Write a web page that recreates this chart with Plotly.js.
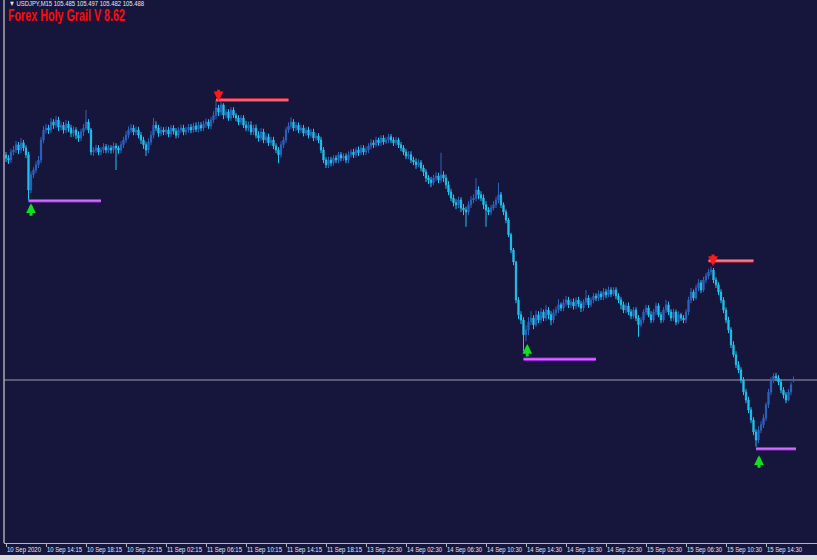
<!DOCTYPE html>
<html>
<head>
<meta charset="utf-8">
<script src="https://cdn.plot.ly/plotly-3.0.1.min.js"></script>
<style>
html,body{margin:0;padding:0;background:#16153b;}
#chart{width:817px;height:560px;}
</style>
</head>
<body>
<div id="chart"></div>
<script>
// ---- data (USDJPY M15, bar index 0..315) ----
const symbolName = 'USDJPY,M15';
const chartTitle = 'Forex Holy Grail V 8.62';

const tickLabels = ['10 Sep 2020','10 Sep 14:15','10 Sep 18:15','10 Sep 22:15','11 Sep 02:15','11 Sep 06:15','11 Sep 10:15','11 Sep 14:15','11 Sep 18:15','13 Sep 22:30','14 Sep 02:30','14 Sep 06:30','14 Sep 10:30','14 Sep 14:30','14 Sep 18:30','14 Sep 22:30','15 Sep 02:30','15 Sep 06:30','15 Sep 10:30','15 Sep 14:30'];

const closes = [
106.043,106.038,106.058,106.063,106.076,106.063,106.081,106.068,106.051,105.963,106.001,106.013,106.026,106.038,106.088,106.113,
106.118,106.113,106.133,106.125,106.138,106.120,106.125,106.113,106.128,106.118,106.105,106.113,106.100,106.093,106.108,106.118,
106.133,106.113,106.058,106.063,106.068,106.058,106.063,106.071,106.063,106.068,106.063,106.073,106.068,106.063,106.076,106.088,
106.100,106.113,106.118,106.108,106.113,106.100,106.088,106.076,106.063,106.083,106.100,106.125,106.118,106.105,106.113,106.108,
106.113,106.103,106.118,106.110,106.100,106.113,106.118,106.108,106.113,106.120,106.113,106.123,106.115,106.125,106.118,106.128,
106.133,106.123,106.138,106.150,106.168,106.158,106.176,106.150,106.158,106.143,106.163,106.150,106.143,106.133,106.143,106.125,
106.118,106.125,106.108,106.118,106.100,106.093,106.108,106.088,106.096,106.081,106.088,106.073,106.063,106.051,106.076,106.088,
106.113,106.123,106.133,106.118,106.125,106.113,106.118,106.105,106.113,106.100,106.108,106.093,106.098,106.088,106.063,106.038,
106.026,106.038,106.031,106.043,106.038,106.051,106.043,106.048,106.038,106.051,106.058,106.051,106.063,106.056,106.068,106.058,
106.063,106.073,106.081,106.076,106.088,106.081,106.093,106.083,106.088,106.096,106.088,106.081,106.088,106.076,106.068,106.058,
106.048,106.051,106.038,106.033,106.026,106.031,106.018,106.008,105.993,105.988,105.981,105.993,105.998,105.988,106.001,105.993,
105.976,105.958,105.943,105.931,105.926,105.938,105.918,105.913,105.908,105.926,105.938,105.943,105.963,105.951,105.943,105.926,
105.913,105.908,105.918,105.926,105.938,105.951,105.926,105.908,105.888,105.851,105.813,105.783,105.688,105.651,105.638,105.601,
105.613,105.633,105.643,105.626,105.651,105.638,105.658,105.643,105.663,105.651,105.638,105.656,105.663,105.676,105.668,105.681,
105.688,105.676,105.683,105.673,105.688,105.678,105.668,105.683,105.693,105.676,105.688,105.698,105.693,105.703,105.696,105.708,
105.701,105.713,105.703,105.713,105.698,105.688,105.676,105.663,105.673,105.658,105.648,105.663,105.643,105.626,105.638,105.658,
105.668,105.651,105.638,105.658,105.673,105.651,105.638,105.663,105.676,105.658,105.643,105.658,105.633,105.651,105.643,105.638,
105.658,105.688,105.708,105.693,105.718,105.731,105.713,105.738,105.748,105.758,105.763,105.738,105.726,105.708,105.688,105.663,
105.638,105.613,105.576,105.551,105.526,105.513,105.488,105.458,105.438,105.413,105.388,105.358,105.338,105.363,105.376,105.393,
105.426,105.458,105.488,105.498,105.493,105.483,105.463,105.451,105.438,105.458,105.476,105.488];

const opens = [
106.050,106.043,106.038,106.058,106.063,106.076,106.063,106.081,106.068,106.051,105.963,106.001,106.013,106.026,106.038,106.088,
106.113,106.118,106.113,106.133,106.125,106.138,106.120,106.125,106.113,106.128,106.118,106.105,106.113,106.100,106.093,106.108,
106.118,106.133,106.113,106.058,106.063,106.068,106.058,106.063,106.071,106.063,106.068,106.063,106.073,106.068,106.063,106.076,
106.088,106.100,106.113,106.118,106.108,106.113,106.100,106.088,106.076,106.063,106.083,106.100,106.125,106.118,106.105,106.113,
106.108,106.113,106.103,106.118,106.110,106.100,106.113,106.118,106.108,106.113,106.120,106.113,106.123,106.115,106.125,106.118,
106.128,106.133,106.123,106.138,106.150,106.168,106.158,106.176,106.150,106.158,106.143,106.163,106.150,106.143,106.133,106.143,
106.125,106.118,106.125,106.108,106.118,106.100,106.093,106.108,106.088,106.096,106.081,106.088,106.073,106.063,106.051,106.076,
106.088,106.113,106.123,106.133,106.118,106.125,106.113,106.118,106.105,106.113,106.100,106.108,106.093,106.098,106.088,106.063,
106.038,106.026,106.038,106.031,106.043,106.038,106.051,106.043,106.048,106.038,106.051,106.058,106.051,106.063,106.056,106.068,
106.058,106.063,106.073,106.081,106.076,106.088,106.081,106.093,106.083,106.088,106.096,106.088,106.081,106.088,106.076,106.068,
106.058,106.048,106.051,106.038,106.033,106.026,106.031,106.018,106.008,105.993,105.988,105.981,105.993,105.998,105.988,106.001,
105.993,105.976,105.958,105.943,105.931,105.926,105.938,105.918,105.913,105.908,105.926,105.938,105.943,105.963,105.951,105.943,
105.926,105.913,105.908,105.918,105.926,105.938,105.951,105.926,105.908,105.888,105.851,105.813,105.783,105.688,105.651,105.638,
105.601,105.613,105.633,105.643,105.626,105.651,105.638,105.658,105.643,105.663,105.651,105.638,105.656,105.663,105.676,105.668,
105.681,105.688,105.676,105.683,105.673,105.688,105.678,105.668,105.683,105.693,105.676,105.688,105.698,105.693,105.703,105.696,
105.708,105.701,105.713,105.703,105.713,105.698,105.688,105.676,105.663,105.673,105.658,105.648,105.663,105.643,105.626,105.638,
105.658,105.668,105.651,105.638,105.658,105.673,105.651,105.638,105.663,105.676,105.658,105.643,105.658,105.633,105.651,105.643,
105.638,105.658,105.688,105.708,105.693,105.718,105.731,105.713,105.738,105.748,105.758,105.763,105.738,105.726,105.708,105.688,
105.663,105.638,105.613,105.576,105.551,105.526,105.513,105.488,105.458,105.438,105.413,105.388,105.358,105.338,105.363,105.376,
105.393,105.426,105.458,105.488,105.498,105.493,105.483,105.463,105.451,105.438,105.458,105.485];

const highs = [
106.058,106.050,106.066,106.073,106.086,106.083,106.093,106.088,106.075,106.058,106.010,106.020,106.035,106.048,106.096,106.123,
106.128,106.126,106.143,106.140,106.148,106.146,106.134,106.133,106.138,106.136,106.126,106.122,106.120,106.110,106.116,106.128,
106.163,106.140,106.118,106.070,106.076,106.075,106.070,106.080,106.078,106.076,106.075,106.082,106.080,106.074,106.085,106.096,
106.110,106.122,106.128,106.126,106.122,106.121,106.108,106.096,106.084,106.092,106.110,106.143,106.135,106.126,106.122,106.120,
106.122,106.121,106.126,106.125,106.118,106.120,106.127,106.126,106.121,106.128,106.128,106.131,106.132,106.134,106.133,106.136,
106.142,106.140,106.146,106.160,106.188,106.176,106.183,106.180,106.166,106.165,106.170,106.170,106.156,106.150,106.150,106.150,
106.136,106.134,106.135,106.126,106.127,106.110,106.118,106.116,106.104,106.104,106.096,106.096,106.080,106.070,106.085,106.096,
106.120,106.132,106.145,106.140,106.133,106.132,106.126,106.126,106.120,106.121,106.116,106.116,106.106,106.105,106.096,106.070,
106.045,106.046,106.046,106.050,106.050,106.058,106.058,106.055,106.055,106.060,106.065,106.066,106.070,106.072,106.076,106.075,
106.072,106.080,106.090,106.088,106.096,106.094,106.100,106.100,106.095,106.104,106.103,106.095,106.096,106.094,106.083,106.075,
106.066,106.060,106.060,106.046,106.042,106.040,106.038,106.026,106.015,106.000,105.996,106.001,106.008,106.006,106.056,106.010,
106.002,105.985,105.966,105.952,105.940,105.946,105.945,105.928,105.921,105.935,105.948,105.952,105.993,105.972,105.960,105.952,
105.935,105.920,105.926,105.935,105.946,105.981,105.958,105.932,105.914,105.893,105.856,105.818,105.786,105.695,105.660,105.645,
105.625,105.645,105.660,105.650,105.662,105.660,105.668,105.664,105.676,105.670,105.660,105.665,105.672,105.690,105.682,105.690,
105.698,105.696,105.690,105.692,105.695,105.696,105.686,105.690,105.713,105.700,105.695,105.706,105.705,105.712,105.710,105.718,
105.716,105.722,105.720,105.720,105.720,105.705,105.695,105.684,105.680,105.682,105.665,105.670,105.670,105.650,105.645,105.665,
105.676,105.675,105.660,105.665,105.682,105.680,105.658,105.670,105.688,105.684,105.665,105.666,105.664,105.660,105.656,105.650,
105.665,105.696,105.718,105.714,105.726,105.740,105.738,105.746,105.756,105.766,105.771,105.768,105.745,105.732,105.715,105.695,
105.670,105.646,105.620,105.585,105.560,105.535,105.520,105.495,105.466,105.446,105.420,105.395,105.365,105.372,105.385,105.402,
105.432,105.466,105.495,105.505,105.506,105.500,105.490,105.470,105.458,105.465,105.483,105.497];

const lows = [
106.033,106.028,106.030,106.050,106.055,106.053,106.056,106.060,106.043,105.938,105.955,105.993,106.005,106.018,106.030,106.080,
106.104,106.103,106.105,106.116,106.117,106.110,106.112,106.104,106.105,106.108,106.095,106.096,106.090,106.083,106.085,106.098,
106.112,106.105,106.050,106.048,106.055,106.050,106.050,106.055,106.055,106.056,106.054,106.055,106.013,106.054,106.055,106.068,
106.080,106.092,106.105,106.100,106.100,106.092,106.078,106.066,106.048,106.055,106.075,106.092,106.110,106.096,106.098,106.100,
106.100,106.095,106.096,106.102,106.092,106.093,106.106,106.100,106.100,106.106,106.105,106.106,106.108,106.107,106.110,106.110,
106.118,106.116,106.115,106.130,106.140,106.148,106.150,106.140,106.142,106.136,106.136,106.143,106.135,106.125,106.126,106.118,
106.110,106.110,106.100,106.100,106.092,106.084,106.085,106.080,106.080,106.073,106.074,106.065,106.055,106.030,106.044,106.068,
106.080,106.105,106.115,106.110,106.110,106.105,106.106,106.097,106.098,106.092,106.094,106.085,106.086,106.080,106.055,106.030,
106.018,106.018,106.022,106.024,106.030,106.030,106.035,106.036,106.030,106.030,106.044,106.043,106.044,106.048,106.050,106.050,
106.050,106.055,106.065,106.068,106.070,106.074,106.073,106.076,106.078,106.080,106.080,106.073,106.074,106.068,106.060,106.050,
106.040,106.040,106.030,106.025,106.016,106.020,106.010,105.998,105.983,105.978,105.970,105.975,105.985,105.980,105.980,105.983,
105.966,105.950,105.935,105.922,105.915,105.918,105.908,105.900,105.871,105.900,105.918,105.930,105.935,105.940,105.935,105.915,
105.871,105.900,105.900,105.912,105.918,105.930,105.918,105.900,105.880,105.845,105.805,105.775,105.680,105.640,105.628,105.560,
105.585,105.600,105.625,105.615,105.620,105.630,105.630,105.635,105.636,105.640,105.625,105.630,105.648,105.655,105.660,105.660,
105.672,105.668,105.668,105.664,105.665,105.670,105.658,105.660,105.675,105.668,105.670,105.680,105.685,105.685,105.688,105.688,
105.692,105.695,105.695,105.698,105.690,105.680,105.665,105.655,105.655,105.650,105.640,105.642,105.635,105.596,105.620,105.630,
105.650,105.645,105.630,105.632,105.650,105.645,105.630,105.632,105.655,105.650,105.635,105.636,105.625,105.628,105.636,105.630,
105.630,105.650,105.680,105.686,105.688,105.710,105.705,105.708,105.730,105.740,105.750,105.730,105.718,105.700,105.680,105.655,
105.630,105.605,105.568,105.545,105.518,105.505,105.480,105.450,105.430,105.405,105.380,105.350,105.321,105.330,105.355,105.368,
105.385,105.418,105.450,105.480,105.485,105.475,105.455,105.442,105.430,105.435,105.450,105.482];

// indicator levels (bar start, bar end, price) and signal arrows
const levelStart = [9, 84, 207, 281, 300];
const levelEnd   = [38, 113, 236, 299, 316];
const levelPrice = [105.936, 106.188, 105.540, 105.786, 105.316];
const levelKind  = ['buy', 'sell', 'buy', 'sell', 'buy'];

const arrowBar   = [10, 85, 208.5, 282.8, 301.2];
const arrowPrice = [105.930, 106.185, 105.578, 105.773, 105.300];
const arrowKind  = ['buy', 'sell', 'buy', 'sell', 'buy'];

// ---- build chart ----
const n = closes.length;
const bars = closes.map((_, i) => i);
const tickVals = tickLabels.map((_, i) => i * 16);

const traces = [{
  type: 'candlestick',
  x: bars, open: opens, high: highs, low: lows, close: closes,
  increasing: {line: {color: '#2d62bd', width: 1}, fillcolor: '#2d62bd'},
  decreasing: {line: {color: '#22c2ec', width: 1}, fillcolor: '#22c2ec'},
  whiskerwidth: 0,
  hoverinfo: 'none',
  showlegend: false
}];

levelStart.forEach((s, k) => {
  const buy = levelKind[k] === 'buy';
  traces.push({type: 'scatter', mode: 'lines', x: [s, levelEnd[k]], y: [levelPrice[k], levelPrice[k]],
    line: {color: buy ? '#a222e0' : '#e62a3c', width: 3.5}, hoverinfo: 'none', showlegend: false});
  traces.push({type: 'scatter', mode: 'lines', x: [s, levelEnd[k]], y: [levelPrice[k], levelPrice[k]],
    line: {color: buy ? '#d68cff' : '#ff9aa6', width: 1.2}, hoverinfo: 'none', showlegend: false});
});

const annotations = arrowBar.map((b, k) => {
  const buy = arrowKind[k] === 'buy';
  return {x: b, y: arrowPrice[k], xref: 'x', yref: 'y', text: '', showarrow: true,
    ax: 0, ay: buy ? 14 : -13, arrowhead: 2, arrowsize: 0.65, arrowwidth: 3, standoff: 0,
    arrowcolor: buy ? '#10e020' : '#ff1a1a'};
});

const headerText = '\u25BC ' + symbolName + ' ' + opens[n-1].toFixed(3) + ' ' + highs[n-1].toFixed(3) + ' ' + lows[n-1].toFixed(3) + ' ' + closes[n-1].toFixed(3);
annotations.push({
  xref: 'paper', yref: 'paper', x: 0, y: 1, xanchor: 'left', yanchor: 'top', xshift: 3, yshift: 3,
  showarrow: false, text: headerText,
  font: {family: 'Liberation Sans, sans-serif', size: 7.5, color: '#e8e8f0'}
});

const lastClose = closes[n-1];

const layout = {
  width: 817, height: 560,
  margin: {l: 4, r: 0, t: 0, b: 17},
  paper_bgcolor: '#16153b',
  plot_bgcolor: '#16153b',
  showlegend: false,
  title: {
    text: chartTitle,
    x: 8/817, xanchor: 'left', xref: 'container',
    y: 1 - 15.5/560, yanchor: 'middle', yref: 'container',
    font: {family: 'Liberation Sans Narrow, Liberation Sans, sans-serif', size: 16, weight: 'bold', color: '#ff0a0a'}
  },
  xaxis: {
    range: [-0.8, 324.4],
    rangeslider: {visible: false},
    showgrid: false, zeroline: false,
    showline: true, linecolor: '#b4b4bc', linewidth: 1,
    ticks: 'outside', ticklen: 3, tickcolor: '#b4b4bc',
    tickvals: tickVals, ticktext: tickLabels, tickangle: 0,
    ticklabelposition: 'outside right',
    tickfont: {family: 'Liberation Sans, sans-serif', size: 7, color: '#e8e8f0'},
    fixedrange: true
  },
  yaxis: {
    range: [105.0805, 106.438],
    showgrid: false, zeroline: false, showticklabels: false, showline: false, ticks: '',
    fixedrange: true
  },
  shapes: [
    {type: 'line', xref: 'paper', yref: 'y', x0: 0, x1: 1, y0: lastClose, y1: lastClose,
     line: {color: '#a0a0ac', width: 1}, layer: 'below'},
    {type: 'line', xref: 'paper', yref: 'paper', x0: 0, x1: 0, y0: 0, y1: 1,
     line: {color: '#a8a8b0', width: 1.5}},
    {type: 'rect', xref: 'paper', yref: 'paper', x0: -0.01, x1: 1.01, y0: -0.0221, y1: -0.04,
     fillcolor: '#dcdcdc', line: {width: 0}}
  ],
  annotations: annotations
};

// squeeze a text element to a target width, keeping its left edge in place
function condense(el, width) {
  const bb = el.getBBox();
  if (!bb.width) return;
  el.setAttribute('text-anchor', 'start');
  el.setAttribute('x', bb.x);
  el.querySelectorAll('tspan').forEach(ts => ts.removeAttribute('x'));
  el.setAttribute('textLength', width);
  el.setAttribute('lengthAdjust', 'spacingAndGlyphs');
}

Plotly.newPlot('chart', traces, layout, {staticPlot: true, displayModeBar: false}).then(gd => {
  const t = gd.querySelector('.gtitle');
  if (t) condense(t, 117);
  gd.querySelectorAll('.annotation-text').forEach(el => {
    if (el.textContent.indexOf(symbolName) >= 0) condense(el, 135);
  });
  gd.querySelectorAll('.xtick text').forEach(el => {
    const w = el.getBBox().width;
    condense(el, Math.round(w * 0.85));
  });
});
</script>
</body>
</html>
